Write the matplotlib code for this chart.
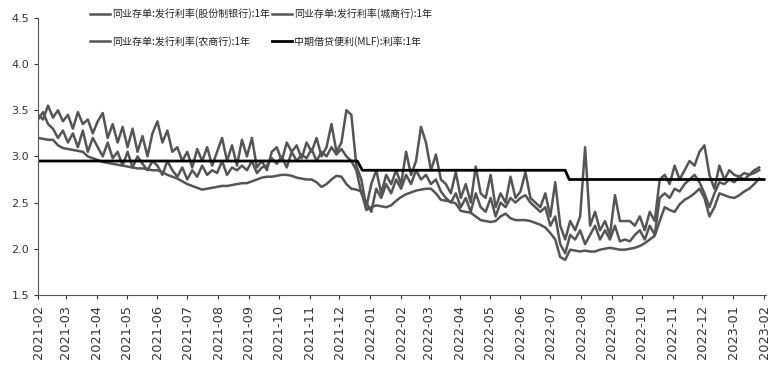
import matplotlib
matplotlib.use("Agg")
import matplotlib.pyplot as plt
import matplotlib.dates as mdates
import numpy as np
import pandas as pd

plt.rcParams['font.family'] = ['Noto Sans CJK SC', 'DejaVu Sans']

# observation dates (every 5 days from 2021-02-01)
dates = pd.date_range("2021-02-01", periods=146, freq="5D")

# 同业存单:发行利率(股份制银行):1年
gufen = [3.20, 3.19, 3.18, 3.18, 3.12, 3.09,
         3.08, 3.07, 3.06, 3.05, 3.00, 2.98,
         2.96, 2.94, 2.93, 2.92, 2.91, 2.90,
         2.89, 2.88, 2.87, 2.87, 2.86, 2.85,
         2.85, 2.83, 2.80, 2.78, 2.76, 2.73,
         2.70, 2.68, 2.66, 2.64, 2.65, 2.66,
         2.67, 2.68, 2.68, 2.69, 2.70, 2.71,
         2.71, 2.73, 2.75, 2.77, 2.78, 2.78,
         2.79, 2.80, 2.80, 2.79, 2.77, 2.76,
         2.75, 2.75, 2.72, 2.67, 2.70, 2.75,
         2.79, 2.78, 2.70, 2.65, 2.64, 2.62,
         2.42, 2.45, 2.47, 2.46, 2.45, 2.47,
         2.52, 2.56, 2.59, 2.61, 2.63, 2.64,
         2.65, 2.65, 2.60, 2.53, 2.52, 2.51,
         2.49, 2.41, 2.40, 2.39, 2.35, 2.31,
         2.30, 2.29, 2.30, 2.35, 2.38, 2.33,
         2.31, 2.31, 2.31, 2.30, 2.28, 2.26,
         2.23, 2.17, 2.10, 1.91, 1.88, 1.99,
         1.98, 1.97, 1.98, 1.97, 1.97, 1.99,
         2.00, 2.01, 2.00, 1.99, 1.99, 2.00,
         2.01, 2.03, 2.06, 2.10, 2.14, 2.30,
         2.45, 2.42, 2.40, 2.48, 2.53, 2.56,
         2.60, 2.65, 2.55, 2.35, 2.45, 2.60,
         2.58, 2.56, 2.55, 2.58, 2.62, 2.65,
         2.70, 2.76]

# 同业存单:发行利率(城商行):1年
chengshang = [3.45, 3.40, 3.55, 3.42, 3.50, 3.38,
              3.45, 3.30, 3.48, 3.35, 3.40, 3.25,
              3.38, 3.47, 3.20, 3.35, 3.15, 3.32,
              3.10, 3.30, 3.05, 3.22, 3.00, 3.25,
              3.38, 3.15, 3.28, 3.05, 3.10, 2.95,
              3.05, 2.88, 3.08, 2.95, 3.10, 2.90,
              3.05, 3.20, 2.95, 3.12, 2.90, 3.18,
              3.00, 3.20, 2.88, 2.95, 2.85, 3.05,
              3.10, 2.95, 3.15, 3.05, 3.12, 2.98,
              3.15, 3.05, 3.20, 3.00, 3.10, 3.35,
              3.05, 3.15, 3.50, 3.45, 2.90, 2.75,
              2.45, 2.70, 2.85, 2.60, 2.80, 2.70,
              2.85, 2.70, 3.05, 2.80, 2.95, 3.32,
              3.15, 2.85, 3.02, 2.75, 2.70, 2.60,
              2.83, 2.55, 2.70, 2.50, 2.89, 2.60,
              2.55, 2.80, 2.45, 2.60, 2.50, 2.78,
              2.55, 2.62, 2.83, 2.55, 2.50, 2.45,
              2.60, 2.35, 2.72, 2.25, 2.10, 2.30,
              2.20, 2.35, 3.10, 2.25, 2.40, 2.20,
              2.30, 2.15, 2.58, 2.30, 2.30, 2.30,
              2.25, 2.35, 2.20, 2.40, 2.30, 2.75,
              2.80, 2.70, 2.90, 2.75, 2.85, 2.95,
              2.90, 3.05, 3.12, 2.80, 2.65, 2.90,
              2.75, 2.85, 2.80, 2.78, 2.82, 2.80,
              2.85, 2.88]

# 同业存单:发行利率(农商行):1年
nongshang = [3.40, 3.48, 3.35, 3.30, 3.20, 3.28,
             3.15, 3.25, 3.10, 3.28, 3.05, 3.20,
             3.10, 3.00, 3.15, 2.98, 3.05, 2.90,
             3.05, 2.88, 3.00, 2.92, 2.85, 2.95,
             2.90, 2.80, 2.95, 2.85, 2.78, 2.88,
             2.75, 2.85, 2.78, 2.90, 2.80, 2.85,
             2.82, 2.95, 2.80, 2.88, 2.85, 2.90,
             2.85, 2.95, 2.82, 2.88, 2.90, 2.98,
             2.92, 3.00, 2.88, 3.05, 2.95, 3.02,
             2.98, 3.08, 2.95, 3.05, 3.00, 3.10,
             3.02, 3.08, 3.00, 2.95, 2.85, 2.60,
             2.50, 2.40, 2.65, 2.55, 2.70, 2.60,
             2.75, 2.65, 2.80, 2.70, 2.85, 2.75,
             2.80, 2.70, 2.75, 2.62, 2.55, 2.50,
             2.60, 2.45, 2.55, 2.40, 2.60, 2.45,
             2.40, 2.55, 2.35, 2.50, 2.45, 2.55,
             2.50, 2.55, 2.58, 2.50, 2.45, 2.40,
             2.45, 2.25, 2.35, 2.05, 1.95, 2.15,
             2.10, 2.20, 2.05, 2.15, 2.25, 2.10,
             2.20, 2.10, 2.25, 2.08, 2.10, 2.08,
             2.15, 2.20, 2.10, 2.25, 2.15, 2.55,
             2.60, 2.55, 2.65, 2.62, 2.70, 2.75,
             2.80, 2.72, 2.60, 2.45, 2.60, 2.72,
             2.70, 2.75, 2.72, 2.78, 2.75, 2.80,
             2.82, 2.85]

# 中期借贷便利(MLF):利率:1年
mlf_dates = pd.to_datetime(["2021-02-01", "2021-12-19", "2021-12-24",
                            "2022-07-16", "2022-07-20", "2023-02-01"])
mlf = [2.95, 2.95, 2.85, 2.85, 2.75, 2.75]

labels = ["同业存单:发行利率(股份制银行):1年", "同业存单:发行利率(城商行):1年",
          "同业存单:发行利率(农商行):1年", "中期借贷便利(MLF):利率:1年"]

yticks = [1.5, 2.0, 2.5, 3.0, 3.5, 4.0, 4.5]

fig = plt.figure(figsize=(7.77, 3.65), dpi=100)
ax = fig.add_axes([0.049, 0.192, 0.937, 0.759])

gray = "#555555"
l1, = ax.plot(dates, gufen, color=gray, lw=1.8)
l2, = ax.plot(dates, chengshang, color=gray, lw=1.8)
l3, = ax.plot(dates, nongshang, color=gray, lw=1.8)
l4, = ax.plot(mlf_dates, mlf, color="black", lw=2.0)

ax.set_ylim(1.5, 4.5)
ax.set_yticks(yticks)
ax.set_yticklabels([f"{v:.1f}" for v in yticks], fontsize=8)
ax.set_xlim(pd.Timestamp("2021-02-01"), pd.Timestamp("2023-02-03"))
ax.xaxis.set_major_locator(mdates.MonthLocator())
ax.xaxis.set_major_formatter(mdates.DateFormatter("%Y-%m"))
for t in ax.get_xticklabels():
    t.set_rotation(90)
    t.set_fontsize(9.3)
    t.set_family("DejaVu Sans")
for t in ax.get_yticklabels():
    t.set_family("DejaVu Sans")
ax.spines["top"].set_visible(False)
ax.spines["right"].set_visible(False)
ax.spines["left"].set_color("#555555")
ax.spines["bottom"].set_color("#555555")
ax.tick_params(axis="both", colors="#333333", length=3, width=0.8)
ax.tick_params(axis="x", pad=4)

# legend filled column-wise -> order handles so rows read as in the reference
handles = [l1, l3, l2, l4]
leg_labels = [labels[0], labels[2], labels[1], labels[3]]
leg = ax.legend(handles, leg_labels, ncol=2, loc="upper left",
                bbox_to_anchor=(0.071, 1.035), frameon=False, fontsize=7.2,
                handlelength=2.0, handletextpad=0.25, columnspacing=0.15,
                labelspacing=1.65, borderaxespad=0, borderpad=0)
for t in leg.get_texts():
    t.set_color("#222222")

fig.savefig("out.png", dpi=100)
